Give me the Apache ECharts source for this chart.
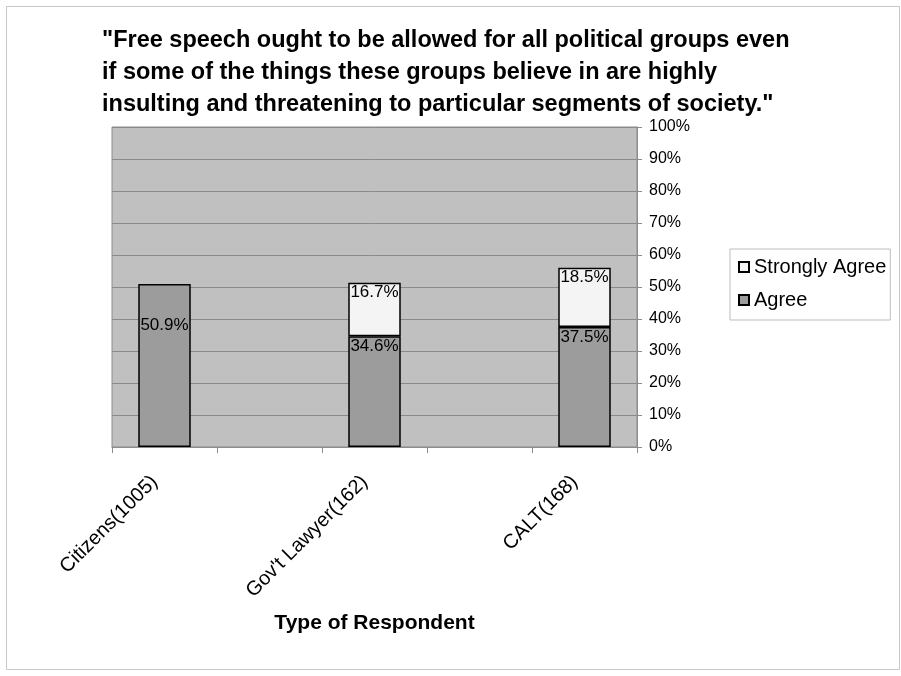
<!DOCTYPE html>
<html>
<head>
<meta charset="utf-8">
<script src="https://cdn.jsdelivr.net/npm/echarts@6/dist/echarts.min.js"></script>
<style>
  html, body { margin: 0; padding: 0; background: #ffffff; }
  #chart { width: 901px; height: 676px; }
</style>
</head>
<body>
<div id="chart"></div>
<script>
// ---- data ----
const titleLines = [
  '"Free speech ought to be allowed for all political groups even',
  'if some of the things these groups believe in are highly',
  'insulting and threatening to particular segments of society."'
];
const categories = ['Citizens(1005)', '', "Gov't Lawyer(162)", '', 'CALT(168)'];
const agree = [50.9, null, 34.6, null, 37.5];
const stronglyAgree = [null, null, 16.7, null, 18.5];
const yTickValues = [0, 10, 20, 30, 40, 50, 60, 70, 80, 90, 100];
const xAxisName = 'Type of Respondent';
const seriesNames = ['Strongly Agree', 'Agree'];

// ---- chart ----
const FONT = 'Arial, "Liberation Sans", sans-serif';
const chart = echarts.init(document.getElementById('chart'), null, { renderer: 'canvas' });

function labelFmt(p) { return p.value == null ? '' : p.value + '%'; }

const agreeData = agree.map((v, i) => {
  if (i === 0) return { value: v, label: { distance: 33 } };
  return v;
});

chart.setOption({
  backgroundColor: '#ffffff',
  animation: false,
  title: {
    text: titleLines.join('\n'),
    left: 97,
    top: 20,
    textStyle: { fontFamily: FONT, fontSize: 23.5, fontWeight: 'bold', color: '#000', lineHeight: 32 }
  },
  graphic: [{
    type: 'rect',
    left: 4, top: 4,
    shape: { width: 893, height: 663 },
    style: { fill: 'none', stroke: '#c8c8c8', lineWidth: 1 },
    silent: true
  }],
  legend: {
    data: seriesNames,
    orient: 'vertical',
    left: 730,
    top: 249,
    itemWidth: 10,
    itemHeight: 10,
    itemGap: 13,
    padding: [8, 4, 10, 8],
    borderColor: '#bdbdbd',
    borderWidth: 1,
    icon: 'rect',
    textStyle: { fontFamily: FONT, fontSize: 20, color: '#000' }
  },
  grid: {
    left: 112, right: 264, top: 127, bottom: 229,
    show: true,
    backgroundColor: '#c0c0c0',
    borderColor: '#8c8c8c',
    borderWidth: 1
  },
  xAxis: {
    type: 'category',
    data: categories,
    name: xAxisName,
    nameLocation: 'middle',
    nameGap: 166,
    nameTextStyle: { fontFamily: FONT, fontSize: 21, fontWeight: 'bold', color: '#000' },
    axisLine: { show: true, lineStyle: { color: '#8c8c8c', width: 1 } },
    axisTick: { show: true, length: 6, lineStyle: { color: '#8c8c8c' } },
    axisLabel: {
      rotate: 45, margin: 22, interval: 0,
      padding: [0, 14, 0, 0],
      fontFamily: FONT, fontSize: 20, color: '#000'
    }
  },
  yAxis: {
    type: 'value',
    position: 'right',
    min: yTickValues[0],
    max: yTickValues[yTickValues.length - 1],
    interval: yTickValues[1] - yTickValues[0],
    axisLine: { show: true, lineStyle: { color: '#8c8c8c' } },
    axisTick: { show: true, length: 5, lineStyle: { color: '#8c8c8c' } },
    splitLine: { show: true, lineStyle: { color: '#8a8a8a', width: 1 } },
    axisLabel: {
      margin: 12,
      formatter: '{value}%',
      fontFamily: FONT, fontSize: 16, color: '#000'
    }
  },
  series: [
    {
      name: 'Agree',
      type: 'bar',
      stack: 'total',
      barWidth: '50%',
      data: agreeData,
      itemStyle: { color: '#9c9c9c', borderColor: '#000', borderWidth: 1.5 },
      label: {
        show: true, position: 'insideTop', distance: 2,
        formatter: labelFmt,
        fontFamily: FONT, fontSize: 17, color: '#000'
      }
    },
    {
      name: 'Strongly Agree',
      type: 'bar',
      stack: 'total',
      barWidth: '50%',
      data: stronglyAgree,
      itemStyle: { color: '#f4f4f4', borderColor: '#000', borderWidth: 1.5 },
      label: {
        show: true, position: 'insideTop', distance: 1,
        formatter: labelFmt,
        fontFamily: FONT, fontSize: 17, color: '#000'
      }
    }
  ]
});
</script>
</body>
</html>
